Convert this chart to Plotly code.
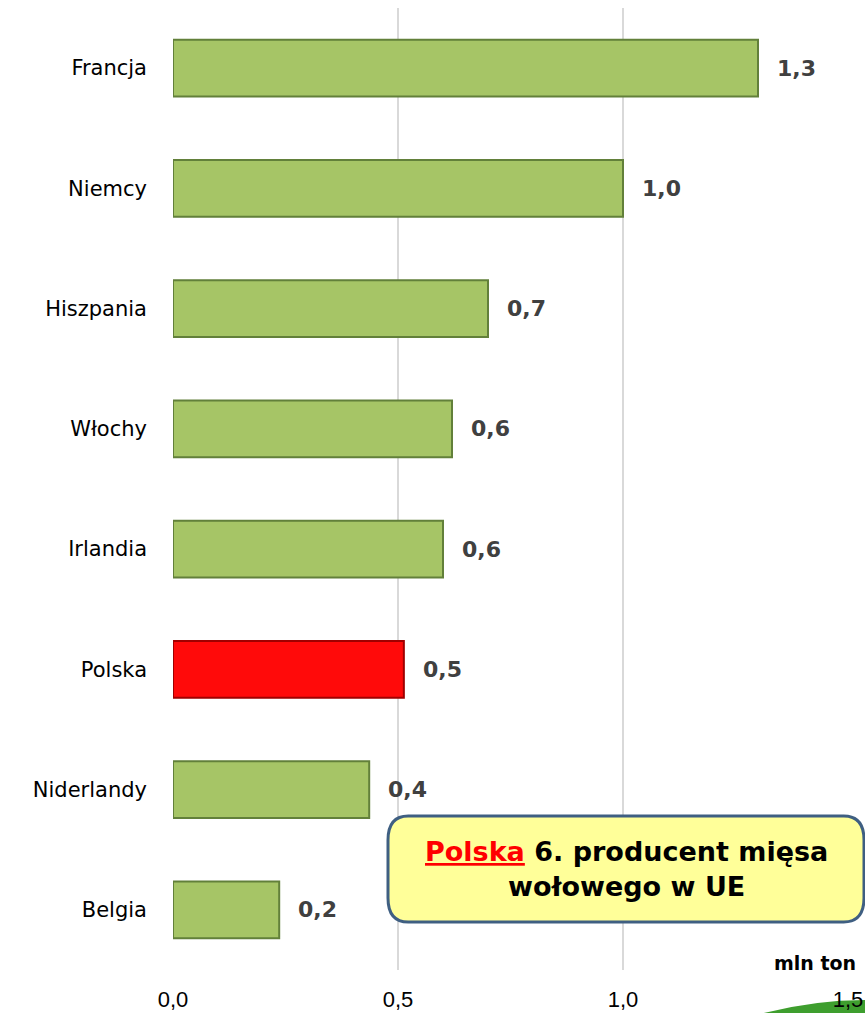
import plotly.graph_objects as go

countries = ["Francja", "Niemcy", "Hiszpania", "Włochy", "Irlandia", "Polska", "Niderlandy", "Belgia"]
values = [1.30, 1.00, 0.70, 0.62, 0.60, 0.513, 0.436, 0.236]
labels = ["1,3", "1,0", "0,7", "0,6", "0,6", "0,5", "0,4", "0,2"]
tick_vals = [0, 0.5, 1.0, 1.5]
tick_text = ["0,0", "0,5", "1,0", "1,5"]

GREEN = "#A6C566"
RED = "#FF0A0A"
colors = [RED if c == "Polska" else GREEN for c in countries]
lines = ["#A00000" if c == "Polska" else "#62803A" for c in countries]

fig = go.Figure()
fig.add_trace(go.Bar(
    y=countries, x=values, orientation="h",
    marker=dict(color=colors, line=dict(color=lines, width=2)),
    width=0.47, hoverinfo="skip",
))

for c, v, t in zip(countries, values, labels):
    fig.add_annotation(x=v, y=c, text=t, showarrow=False, xanchor="left", xshift=17,
                       font=dict(family="DejaVu Sans", size=22, color="#404040", weight="bold"))

# call-out box
x0, x1 = (388 - 173) / 675, (864 - 173) / 675
y0, y1 = (970 - 922) / 962, (970 - 816) / 962
rx, ry = 0.03, 0.025
path = (f"M {x0+rx},{y0} L {x1-rx},{y0} Q {x1},{y0} {x1},{y0+ry} L {x1},{y1-ry} "
        f"Q {x1},{y1} {x1-rx},{y1} L {x0+rx},{y1} Q {x0},{y1} {x0},{y1-ry} "
        f"L {x0},{y0+ry} Q {x0},{y0} {x0+rx},{y0} Z")
fig.add_shape(type="path", path=path, xref="paper", yref="paper",
              fillcolor="#FFFF99", line=dict(color="#3F5F82", width=3), layer="above")
fig.add_annotation(x=(x0 + x1) / 2, y=(y0 + y1) / 2, xref="paper", yref="paper",
                   xanchor="center", yanchor="middle",
                   text="<span style='color:#FF0000'><u>Polska</u></span> 6. producent mięsa<br>wołowego w UE",
                   showarrow=False, align="center",
                   font=dict(family="DejaVu Sans", size=27, color="#000000", weight="bold"))

fig.add_annotation(x=1.0, y=0, xref="paper", yref="paper", text="mln ton", showarrow=False,
                   xanchor="right", yanchor="bottom", xshift=10, yshift=-6,
                   font=dict(family="DejaVu Sans", size=19, color="#000000", weight="bold"))

# decorative green swoosh in the bottom-right corner
sx0, sx1 = (760 - 173) / 675, (866 - 173) / 675
sy0, sy1 = (970 - 1014) / 962, (970 - 1000) / 962
fig.add_shape(type="path", xref="paper", yref="paper",
              path=f"M {sx0},{sy0} Q {(sx0+sx1)/2},{sy1} {sx1},{sy1} L {sx1},{sy0} Z",
              fillcolor="#3E9E2E", line=dict(width=0), layer="below")

fig.update_layout(
    width=865, height=1013,
    margin=dict(l=173, r=17, t=8, b=43),
    plot_bgcolor="white", paper_bgcolor="white",
    showlegend=False,
    separators=", ",
    xaxis=dict(range=[0, 1.5], tickvals=tick_vals, ticktext=tick_text, automargin=False,
               showgrid=True, gridcolor="#D9D9D9", gridwidth=2, zeroline=False,
               showline=False, ticks="", ticklabelstandoff=14,
               tickfont=dict(family="Liberation Sans, Arial", size=22, color="#000000")),
    yaxis=dict(categoryorder="array", categoryarray=countries[::-1], automargin=False,
               showgrid=False, showline=False, ticks="", ticklabelstandoff=25,
               tickfont=dict(family="DejaVu Sans", size=21, color="#000000")),
)

fig.write_html("out.html", config={"displayModeBar": False},
               post_script="document.body.style.margin='0';")
